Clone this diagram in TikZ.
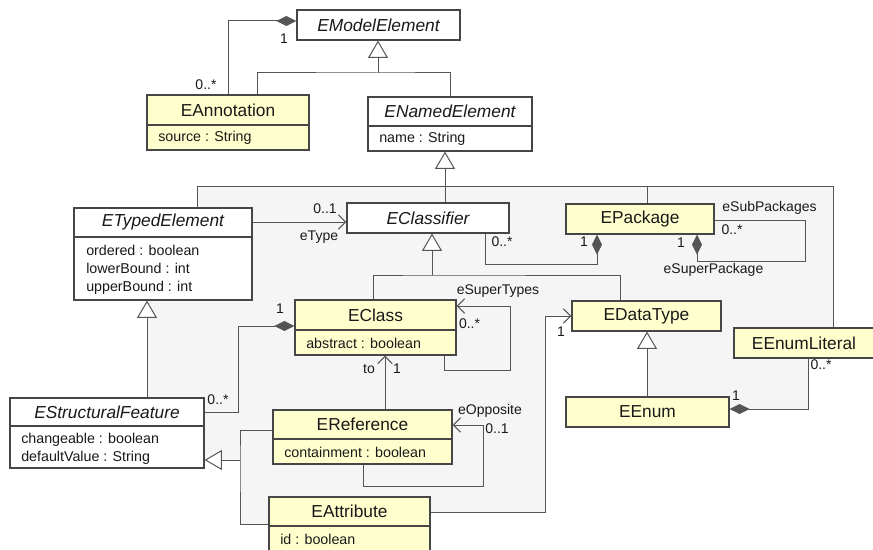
\documentclass[tikz,border=0pt]{standalone}
\usepackage{fontspec}
\setmainfont{Liberation Sans}
\usetikzlibrary{arrows.meta,fit}

\definecolor{classfill}{RGB}{255,255,206}
\definecolor{regionfill}{RGB}{245,245,245}
\definecolor{edge}{RGB}{85,85,85}
\definecolor{boxline}{RGB}{70,70,70}
\definecolor{ink}{RGB}{25,25,25}

\tikzset{
  box/.style={draw=boxline, line width=0.9pt, inner sep=0pt},
  classbox/.style={box, fill=classfill},
  plainbox/.style={box, fill=white},
  divider/.style={draw=boxline, line width=0.9pt},
  cname/.style={inner sep=0pt, text=ink, font=\fontsize{13}{15}\selectfont},
  aname/.style={inner sep=0pt, text=ink, font=\fontsize{13}{15}\selectfont\itshape},
  attr/.style={inner sep=0pt, anchor=west, align=left, text=ink, font=\fontsize{10.7}{13.5}\selectfont},
  lbl/.style={inner sep=0pt, text=ink, font=\fontsize{10.5}{12}\selectfont},
  wire/.style={draw=edge, line width=0.75pt},
  gen/.style={wire, -{Triangle[open, length=13pt, width=15pt, fill=white]}},
  nav/.style={wire, -{Straight Barb[length=5.5pt, width=11pt]}},
  compend/.style={wire, -{Diamond[length=15pt, width=7.5pt]}},
  compstart/.style={wire, {Diamond[length=15pt, width=7.5pt]}-},
}

\begin{document}
\begin{tikzpicture}[x=0.75pt, y=-0.75pt]
\useasboundingbox (0,0) rectangle (873,549);
\clip (0,0) rectangle (873,549);

% shaded area enclosed by the ENamedElement hierarchy
\fill[regionfill] (197,186) -- (833,186) -- (833,345) -- (808,345) -- (808,409)
  -- (648,409) -- (648,331) -- (572,331) -- (572,316) -- (545,316) -- (545,512)
  -- (430,512) -- (430,524) -- (240,524) -- (240,460) -- (204,460) -- (204,398)
  -- (147,398) -- (147,300) -- (197,300) -- cycle;

% ---- classes ----
\node[plainbox, fit={(297,10) (460,40)}] (me) {};
\node[aname] (me-n) at (378.5,25) {EModelElement};

\node[classbox, fit={(147,95) (309,150)}] (ann) {};
\draw[divider] (ann.west |- 0,125) -- (ann.east |- 0,125);
\node[cname] (ann-n) at (228,110) {EAnnotation};
\node[attr] (ann-a) at (158,138) {source : String};

\node[plainbox, fit={(368,97) (532,151)}] (ne) {};
\draw[divider] (ne.west |- 0,126) -- (ne.east |- 0,126);
\node[aname] (ne-n) at (450,111.5) {ENamedElement};
\node[attr] (ne-a) at (379,139) {name : String};

\node[plainbox, fit={(74,208) (252,300)}] (ete) {};
\draw[divider] (ete.west |- 0,237) -- (ete.east |- 0,237);
\node[aname] (ete-n) at (163,222.5) {ETypedElement};
\node[attr] (ete-a) at (86,270) {ordered : boolean\\lowerBound : int\\upperBound : int};

\node[plainbox, fit={(347,203) (509,233)}] (clf) {};
\node[aname] (clf-n) at (428,218) {EClassifier};

\node[classbox, fit={(566,204) (714,234)}] (pkg) {};
\node[cname] (pkg-n) at (640,219) {EPackage};

\node[classbox, fit={(295,300) (456,355)}] (ecl) {};
\draw[divider] (ecl.west |- 0,330) -- (ecl.east |- 0,330);
\node[cname] (ecl-n) at (375.5,315) {EClass};
\node[attr] (ecl-a) at (306,343) {abstract : boolean};

\node[classbox, fit={(572,301) (721,331)}] (dt) {};
\node[cname] (dt-n) at (646.5,316) {EDataType};

\node[classbox, fit={(734,328) (878,358)}] (lit) {};
\node[cname] (lit-n) at (804,343) {EEnumLiteral};

\node[plainbox, fit={(10,398) (204,468)}] (esf) {};
\draw[divider] (esf.west |- 0,426) -- (esf.east |- 0,426);
\node[aname] (esf-n) at (107,412) {EStructuralFeature};
\node[attr] (esf-a) at (21,449) {changeable : boolean\\defaultValue : String};

\node[classbox, fit={(273,410) (452,464)}] (eref) {};
\draw[divider] (eref.west |- 0,439) -- (eref.east |- 0,439);
\node[cname] (eref-n) at (362.5,424.5) {EReference};
\node[attr] (eref-a) at (284,452) {containment : boolean};

\node[classbox, fit={(566,397) (729,427)}] (enum) {};
\node[cname] (enum-n) at (647.5,412) {EEnum};

\node[classbox, fit={(269,497) (430,575)}] (eatt) {};
\draw[divider] (eatt.west |- 0,526) -- (eatt.east |- 0,526);
\node[cname] (eatt-n) at (349.5,511.5) {EAttribute};
\node[attr] (eatt-a) at (280,539) {id : boolean};

% ---- connectors ----
% annotations owned by model elements
\draw[compend] (ann.north -| 228,0) |- (me.west |- 0,21);
\node[lbl] (l-ann1) at (284,39) {1};
\node[lbl] (l-ann2) at (206,85) {0..*};

% generalisation to EModelElement
\coordinate (j-me) at (378,73);
\draw[wire] (ann.north -| 257,0) |- (j-me) -| (ne.north -| 450,0);
\draw[gen] (j-me) -- (me.south -| j-me);

% generalisation to ENamedElement
\coordinate (j-ne) at (445,186);
\draw[wire] (ete.north -| 197,0) -- (197,186) -- (833,186) -- (lit.north -| 833,0);
\draw[wire] (pkg.north -| 647,0) -- (647,186);
\draw[gen] (clf.north -| j-ne) -- (ne.south -| j-ne);

% eType
\draw[nav] (ete.east |- 0,222) -- (clf.west |- 0,222);
\node[lbl] (l-et1) at (325,209) {0..1};
\node[lbl] (l-et2) at (319,237) {eType};

% classifiers owned by packages
\draw[compend] (clf.south -| 485,0) |- (597,264) -- (pkg.south -| 597,0);
\node[lbl] (l-pk1) at (502,242) {0..*};
\node[lbl] (l-pk2) at (584,242) {1};

% eSubPackages / eSuperPackage
\draw[compstart] (pkg.south -| 697,0) -- (697,261) -- (805,261) -- (805,220) -- (pkg.east |- 0,220);
\node[lbl] (l-sp1) at (769.5,208) {eSubPackages};
\node[lbl] (l-sp2) at (732,230) {0..*};
\node[lbl] (l-sp3) at (681,243) {1};
\node[lbl] (l-sp4) at (713.5,270) {eSuperPackage};

% generalisation to EClassifier
\coordinate (j-clf) at (432,275);
\draw[wire] (ecl.north -| 373,0) |- (j-clf) -| (dt.north -| 620,0);
\draw[gen] (j-clf) -- (clf.south -| j-clf);

% eSuperTypes
\draw[nav] (ecl.south -| 444,0) -- (444,370) -- (510,370) -- (510,306) -- (ecl.east |- 0,306);
\node[lbl] (l-st1) at (498,291) {eSuperTypes};
\node[lbl] (l-st2) at (469.5,324) {0..*};

% structural features owned by classes
\draw[compstart] (ecl.west |- 0,326) -- (238,326) -- (238,412) -- (esf.east |- 0,412);
\node[lbl] (l-sf1) at (280,309) {1};
\node[lbl] (l-sf2) at (218,400) {0..*};

% to
\draw[nav] (eref.north -| 385,0) -- (ecl.south -| 385,0);
\node[lbl] (l-to1) at (369,369) {to};
\node[lbl] (l-to2) at (397,369) {1};

% eOpposite
\draw[nav] (eref.south -| 363,0) -- (363,486) -- (483,486) -- (483,425) -- (eref.east |- 0,425);
\node[lbl] (l-op1) at (490,411) {eOpposite};
\node[lbl] (l-op2) at (497,429) {0..1};

% attribute type
\draw[nav] (eatt.east |- 0,512) -- (545,512) -- (545,316) -- (dt.west |- 0,316);
\node[lbl] (l-at1) at (561,332) {1};

% EEnum generalisation
\draw[gen] (enum.north -| 647,0) -- (dt.south -| 647,0);

% literals owned by enums
\draw[compend] (lit.south -| 808,0) |- (enum.east |- 0,409);
\node[lbl] (l-li1) at (821,365) {0..*};
\node[lbl] (l-li2) at (736,396) {1};

% generalisation to ETypedElement
\draw[gen] (esf.north -| 147,0) -- (ete.south -| 147,0);

% generalisation to EStructuralFeature
\coordinate (j-sf) at (240,460);
\draw[wire] (eref.west |- 0,430) -| (j-sf) |- (eatt.west |- 0,524);
\draw[gen] (j-sf) -- (esf.east |- j-sf);
\end{tikzpicture}
\end{document}
